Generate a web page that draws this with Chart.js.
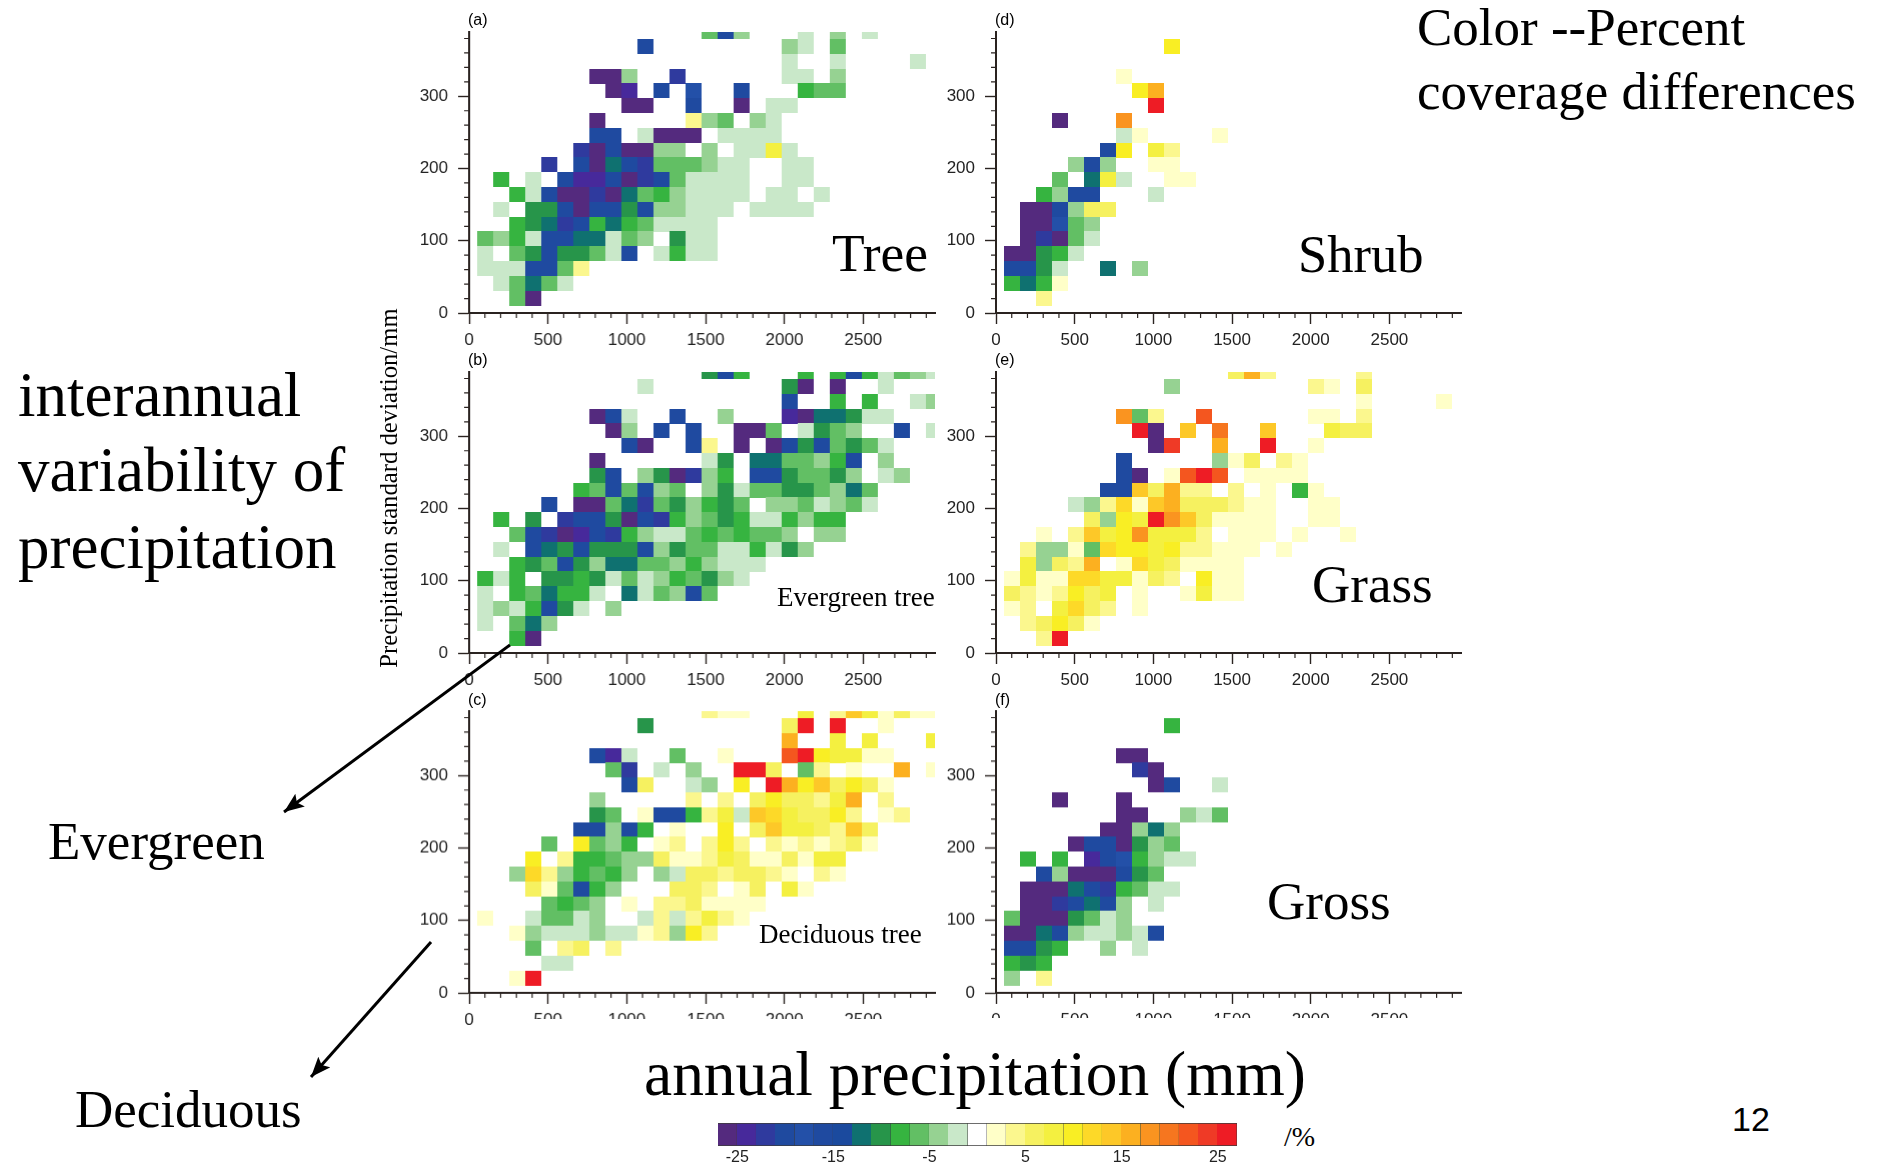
<!DOCTYPE html>
<html>
<head>
<meta charset="utf-8">
<title>Percent coverage differences</title>
<script src="https://cdn.jsdelivr.net/npm/chart.js@4"></script>
<style>
    html, body { margin: 0; padding: 0; background: #fff; }
    #page { position: relative; width: 1877px; height: 1165px; overflow: hidden; }
    #page canvas { position: absolute; }
    .txt { position: absolute; white-space: nowrap; line-height: 1; color: #000; font-family: "Liberation Serif", serif; }
    .mask { position: absolute; background: #fff; }
</style>
</head>
<body>
<div id="page"></div>
<script>
// bin centres along the axes (mm)
const xBins = [102, 203, 305, 406, 508, 610, 711, 813, 914, 1016, 1118, 1219, 1321, 1422, 1524, 1626, 1727, 1829, 1930, 2032, 2134, 2235, 2337, 2438, 2540, 2642, 2743, 2845, 2946];
const yBins = [20.5, 41, 61.5, 82, 102.5, 123, 143.5, 164, 184.5, 205, 225.5, 246, 266.5, 287, 307.5, 328, 348.5, 369, 389.5];
const xTicks = [0, 500, 1000, 1500, 2000, 2500];
const yTicks = [0, 100, 200, 300];

const legendValues = [-26, -24, -22, -20, -18, -16, -14, -12, -10, -8, -6, -4, -2, 0, 2, 4, 6, 8, 10, 12, 14, 16, 18, 20, 22, 24, 26];
const legendTicks = [-25, -15, -5, 5, 15, 25];
const palette = ["#542a7e", "#47299b", "#2f3a9e", "#1f4a9f", "#2350a8", "#1f4aa0", "#1b4a9e", "#0f7170", "#27954a", "#36b440", "#62bf64", "#96d292", "#c9e8c9", "#ffffff", "#ffffc8", "#fbf78e", "#f6f160", "#f4f040", "#f9ee24", "#fdd928", "#fdc828", "#fcb020", "#fa9420", "#f6761f", "#f4561f", "#ef3a26", "#ee1c25"];

// cells: [row, first column, percent, percent, ...] (rows and columns count from 1)
const treeCells = [
    [19, 15, -6, -16, -4], [19, 21, -2], [19, 23, -4], [19, 25, -2],
    [18, 11, -16], [18, 20, -4, -2], [18, 23, -6],
    [17, 20, -2], [17, 23, -2], [17, 28, -2],
    [16, 8, -26, -26, -4], [16, 13, -22], [16, 20, -2, -2], [16, 23, -4],
    [15, 9, -26, -24], [15, 12, -16], [15, 14, -18], [15, 17, -16], [15, 21, -8, -6, -6],
    [14, 10, -26, -26], [14, 14, -16], [14, 17, -26], [14, 19, -2, -2],
    [13, 8, -26], [13, 14, 4, -4, -6], [13, 18, -4, -2],
    [12, 8, -16, -16], [12, 11, -2, -26, -26, -26], [12, 16, -2, -2, -2, -2],
    [11, 7, -22, -26, -16, -26, -26, -4, -4, 0, -4, 0, -2, -2, 8, -2],
    [10, 5, -22], [10, 7, -16, -26, -12, -16, -22, -6, -6, -6, -4, -2, -2], [10, 20, -2, -2],
    [9, 2, -8], [9, 4, -2], [9, 6, -16, -24, -24, -16, -26, -22, -16, -6, -2, -2, -2, -2], [9, 20, -2, -2],
    [8, 3, -8, -2, -16, -26, -26, -22, -26, -12, -6, -8, -4, -2, -2, -2, -2], [8, 19, -2, -2], [8, 22, -2],
    [7, 2, -2], [7, 4, -10, -10, -16, -26, -16, -16, -10, -16, -4, -4, -2, -2, -2], [7, 18, -2, -2, -2, -2],
    [6, 3, -8, -10, -12, -22, -16, -8, -12, -8, -6, -2, -2, -2, -2],
    [5, 1, -6, -4, -8, -2, -16, -16, -12, -12, -2, -6, -4], [5, 13, -10, -2, -2],
    [4, 1, -2], [4, 3, -6, -10, -16, -10, -10, -6, -2, -16], [4, 12, -2, -8, -2, -2],
    [3, 1, -2, -2, -2, -16, -16, -6, 4],
    [2, 2, -2, -6, -12, -6, -2],
    [1, 3, -6, -26]
];
const evergreenCells = [
    [19, 15, -10, -16, -8], [19, 21, -8], [19, 23, -8, -16, -8, -2, -6, -4, -2],
    [18, 11, -2], [18, 20, -10, -26], [18, 23, -26], [18, 26, -2],
    [17, 20, -16], [17, 23, -8], [17, 25, -8], [17, 28, -2, -4],
    [16, 8, -26, -16, -2], [16, 13, -16], [16, 16, -4], [16, 20, -24, -26, -12, -12, -10, -2, -2],
    [15, 9, -26, -4], [15, 12, -16], [15, 14, -16], [15, 17, -26, -26, -6], [15, 21, -2, -10, -6, -4], [15, 27, -16], [15, 29, -2],
    [14, 10, -16, -26], [14, 14, -16, 4], [14, 17, -26], [14, 19, -26, -16, -10, -16, -6, -10, -6, -2],
    [13, 8, -26], [13, 15, -2, -10], [13, 18, -12, -12, -6, -6, -4, -8, -16], [13, 26, -4],
    [12, 8, -10, -16], [12, 11, -4, -10, -26, -22, -4, -8], [12, 18, -16, -16, -10, -6, -6, -10, -4], [12, 26, -2, -4],
    [11, 7, -8, -6, -16, -6, -16, -4, -6, 0, -4, -10, -2, -6, -6, -10, -10, -6, -4, -12, -6],
    [10, 5, -16], [10, 7, -26, -26, -6, -12, -22, -6, -10, -4, -8, -10, -6, 0, -4, -4, -6, -2, -4, -6, -2],
    [9, 2, -8], [9, 4, -10, 0, -22, -16, -16, -10, -26, -16, -22, -8, -4, -6, -10, -8, -2, -2, -8, -4, -8, -8],
    [8, 3, -6, -16, -22, -26, -24, -16, -22, -8, -4, -2, -2, -6, -8, -6, -8, -6, -6, -4, 0, -4, -4],
    [7, 2, -2], [7, 4, -16, -12, -10, -16, -10, -10, -10, -16, -4, -10, -6, -6, -2, -2, -8, -2, -10, -4],
    [6, 3, -8, -10, -6, -16, -10, -4, -12, -12, -6, -6, -4, -8, -4, -2, -2, -2],
    [5, 1, -8, -2, -8, 0, -10, -10, -8, -10, -2, -6, -2, -4, -8, -6, -10, -4, -2],
    [4, 1, -2, 0, -8, -6, -12, -8, -8, -2, 0, -12, -2, -6, -4, -16, -6],
    [3, 1, -2, -4, -2, -8, -16, -10, -2], [3, 9, -4],
    [2, 1, -2], [2, 3, -6, -12, -4],
    [1, 3, -8, -26]
];
const deciduousCells = [
    [19, 15, 4, 2, 2], [19, 21, 8], [19, 23, 4, 14, 8, 2, 6, 2, 2],
    [18, 11, -10], [18, 20, 6, 26], [18, 23, 26], [18, 26, 2],
    [17, 20, 16], [17, 23, 8], [17, 25, 8], [17, 29, 8],
    [16, 8, -16, -24, -2], [16, 13, -6], [16, 16, 2], [16, 20, 22, 26, 10, 8, 8, 2, 2],
    [15, 9, -6, -22], [15, 12, -2], [15, 14, -4], [15, 17, 26, 26, 6], [15, 21, -6, 4], [15, 24, 2], [15, 27, 16], [15, 29, 2],
    [14, 10, -16, 6], [14, 14, -2, -4], [14, 17, 10], [14, 19, 26, 16, 10, 14, 6, 10, 6, 2],
    [13, 8, -4], [13, 14, 4], [13, 16, 4], [13, 18, 6, 10, 6, 6, 4, 8, 16], [13, 26, 4],
    [12, 8, -10, -6], [12, 11, 2, -16, -16, -8, 4, 8, -2, 14, 12, 8, 6, 6, 10, 4], [12, 26, 2, 4],
    [11, 7, -16, -16, -4, -16, -8], [11, 13, 2], [11, 16, 10], [11, 18, 6, 14, 8, 8, 6, 4, 14, 6],
    [10, 5, -6], [10, 7, 10, -6, -4, -8], [10, 12, 2, 4], [10, 15, 4, 10, 4], [10, 19, 4, 2, 4, 2, 4, 6, 2],
    [9, 4, 10], [9, 6, 4, -8, -8, -6, -4, -4, 6, 2, 2, 4, 8, 6, 2, 2, 6, 2, 8, 8],
    [8, 3, -4, 12, 4, -4, -8, -6, -8, -4], [8, 12, -4, -2, 6, 6, 4, 6, 6, 4, 2], [8, 22, 4, 2],
    [7, 4, 6, 2, -6, -16, -8, -4], [7, 13, 6, 6, 4], [7, 17, 2, 6], [7, 20, 8, 2],
    [6, 5, -6, -8, -6, -4], [6, 10, 2], [6, 12, 4, 4, 6, 2, 2, 2, 2],
    [5, 1, 2], [5, 4, -2, -6, -6, -2, -4], [5, 11, -2, 4, -2, 4, 8, 4, 2],
    [4, 3, 2, -4, -2, -2, -2, -4, -2, -2, 2, 4, -4, 10, 4],
    [3, 4, -6], [3, 6, 4, 6], [3, 9, 4],
    [2, 5, -2, -2],
    [1, 3, 2, 26]
];
const shrubCells = [
    [18, 11, 10],
    [16, 8, 2],
    [15, 9, 10, 16],
    [14, 10, 26],
    [13, 4, -26], [13, 8, 18],
    [12, 8, -2, 2], [12, 14, 2],
    [11, 7, -16, 10], [11, 10, 8, 4],
    [10, 5, -4, -16, -4], [10, 10, 2, 2],
    [9, 4, -6], [9, 6, -12, 8, -2], [9, 11, 2, 2],
    [8, 3, -8, -4, -16, -16], [8, 10, -2],
    [7, 2, -26, -26, -16, -4, 6, 6],
    [6, 2, -26, -26, -18, -6, -4],
    [5, 2, -26, -22, -26, -6, -2],
    [4, 1, -26, -26, -10, -8, -2],
    [3, 1, -16, -16, -10, -2], [3, 7, -12], [3, 9, -4],
    [2, 1, -8, -12, -8, 2],
    [1, 3, 4]
];
const grassCells = [
    [19, 15, 6, 16, 4], [19, 23, 4],
    [18, 11, -4], [18, 20, 4, 2], [18, 23, 6],
    [17, 23, 2], [17, 28, 2],
    [16, 8, 18, -6, 4], [16, 13, 22], [16, 20, 2, 2], [16, 23, 4],
    [15, 9, 26, -26], [15, 12, 14], [15, 14, 20], [15, 17, 14], [15, 21, 8, 6, 6],
    [14, 10, -26, 24], [14, 14, 16], [14, 17, 26], [14, 20, 2],
    [13, 8, -16], [13, 14, -4, 2, 6], [13, 18, 4, 2],
    [12, 8, -16, -26], [12, 11, 2, 22, 26, 22], [12, 16, 2, 2, 2, 2],
    [11, 7, -16, -16, 14, 6, 16, 4, 4], [11, 15, 4], [11, 17, 2], [11, 19, -8, 2],
    [10, 5, -2, -4, 4, 12, 2, 14, 16, 6, 6, 6, 4, 2, 2], [10, 20, 2, 2],
    [9, 6, 6, -4, 10, 8, 26, 18, 14, 6, 2, 2, 2, 2], [9, 20, 2, 2],
    [8, 3, 2], [8, 5, 4, 14, 8, 10, 18, 8, 8, 8, 4], [8, 15, 2, 2, 2], [8, 19, 2], [8, 22, 2],
    [7, 2, 4, -4, -4, 2, -6, 12, 10, 10, 8, 10, 4, 4, 2, 2, 2], [7, 18, 2],
    [6, 2, 8, -4, 6, 4, 16], [6, 8, 2, 12, 8, 6, 2, 2, 2, 2],
    [5, 1, 2, 8, 2, 2, 12, 12, 8, 8, 2, 6, 4], [5, 13, 10, 2, 2],
    [4, 1, 6, 4, 2, 4, 10, 6, 8], [4, 9, 2], [4, 12, 2, 8, 2, 2],
    [3, 1, 2, 4], [3, 4, 8, 12, 6, 4], [3, 9, 2],
    [2, 2, 4, 6, 10, 6, 2],
    [1, 3, 4, 26]
];
const grossCells = [
    [18, 11, -8],
    [16, 8, -26, -26],
    [15, 9, -22, -26],
    [14, 10, -26, -16], [14, 14, -2],
    [13, 4, -26], [13, 8, -26],
    [12, 8, -26, -26], [12, 12, -4, -2, -6],
    [11, 7, -26, -26, -4, -12, -4],
    [10, 5, -26, -16, -16, -26, -10, -4, -6],
    [9, 2, -8], [9, 4, -8], [9, 6, -24, -16, -18, -8, -4, -2, -2],
    [8, 3, -16, -4, -26, -26, -26, -16, -10, -6],
    [7, 2, -26, -26, -26, -12, -16, -22, -8, -6, -2, -2],
    [6, 2, -26, -26, -22, -16, -12, -16, -4], [6, 10, -2],
    [5, 1, -6, -26, -26, -26, -10, -6, -2, -4],
    [4, 1, -26, -26, -12, -16, -4, -2, -2, -4, -2, -16],
    [3, 1, -16, -16, -10, -8], [3, 7, -4], [3, 9, -2],
    [2, 1, -8, -10, -8],
    [1, 1, -4], [1, 3, 4]
];

const page = document.getElementById("page");

const makeSwatch = (color, w, h, edge) => {
    let c = document.createElement("canvas");
    c.width = w;
    c.height = h;
    let g = c.getContext("2d");
    g.fillStyle = color;
    g.fillRect(0, 0, w, h);
    if (edge) {
        g.fillStyle = "rgba(60,60,60,0.75)";
        g.fillRect(w - 1, 0, 1, h);
        g.fillRect(0, 0, w, 1);
        g.fillRect(0, h - 1, w, 1);
    }
    return c;
};
const cellSwatches = palette.map((c) => makeSwatch(c, 16, 15, false));
const legendSwatches = palette.map((c) => makeSwatch(c, 20, 23, true));
const levelOf = (v) => Math.round(v / 2) + 13;

const cellsToPoints = (cells) => {
    let points = [];
    cells.forEach((seg) => {
        for (let i = 2; i < seg.length; i++) {
            if (seg[i] !== 0) {
                points.push({ x: xBins[seg[1] + i - 3], y: yBins[seg[0] - 1], v: seg[i] });
            }
        }
    });
    return points;
};

// chart.js has no minor ticks, so they go on through the scales here
const minorTicks = {
    id: "minorTicks",
    afterDraw(chart) {
        const x = chart.scales.x, y = chart.scales.y, c = chart.ctx;
        c.save();
        c.strokeStyle = "#2a2320";
        c.lineWidth = 1.2;
        c.beginPath();
        for (let v = 100; v < 2955; v += 100) {
            if (v % 500 === 0) continue;
            c.moveTo(x.getPixelForValue(v), chart.chartArea.bottom);
            c.lineTo(x.getPixelForValue(v), chart.chartArea.bottom + 5);
        }
        for (let v = 20; v < 389; v += 20) {
            if (v % 100 === 0) continue;
            c.moveTo(chart.chartArea.left, y.getPixelForValue(v));
            c.lineTo(chart.chartArea.left - 5, y.getPixelForValue(v));
        }
        c.stroke();
        c.restore();
    }
};

const LEFT = 70, BOTTOM = 50, TOPPAD = 30, RIGHTPAD = 30;
const addPanel = (cells, left, right, top, bottom) => {
    let cv = document.createElement("canvas");
    let w = right - left + LEFT + RIGHTPAD, h = bottom - top + TOPPAD + BOTTOM;
    cv.style.left = (left - LEFT) + "px";
    cv.style.top = (top - TOPPAD) + "px";
    cv.style.width = w + "px";
    cv.style.height = h + "px";
    page.appendChild(cv);
    const axis = {
        grid: { drawOnChartArea: false, color: "#2a2320", tickColor: "#2a2320", tickLength: 11, tickWidth: 1.4 },
        border: { display: true, color: "#2a2320", width: 2 },
    };
    new Chart(cv, {
        type: "scatter",
        data: {
            datasets: [{
                data: cellsToPoints(cells),
                pointStyle: (ctx) => cellSwatches[levelOf(ctx.raw.v)],
                pointRadius: 8,
                pointBorderWidth: 0,
            }],
        },
        options: {
            responsive: false,
            animation: false,
            events: [],
            layout: { padding: { top: TOPPAD, right: RIGHTPAD } },
            plugins: { legend: { display: false }, tooltip: { enabled: false } },
            scales: {
                x: {
                    ...axis,
                    type: "linear",
                    min: 0,
                    max: 2955,
                    afterBuildTicks: (s) => { s.ticks = xTicks.map((v) => ({ value: v })); },
                    ticks: { autoSkip: false, maxRotation: 0, padding: 6, color: "#222", font: { family: "Liberation Sans", size: 17 }, callback: (v) => String(v) },
                    afterFit: (s) => { s.height = BOTTOM; },
                },
                y: {
                    ...axis,
                    min: 0,
                    max: 389,
                    afterBuildTicks: (s) => { s.ticks = yTicks.map((v) => ({ value: v })); },
                    ticks: { autoSkip: false, padding: 10, color: "#222", font: { family: "Liberation Sans", size: 17 }, callback: (v) => String(v) },
                    afterFit: (s) => { s.width = LEFT; },
                },
            },
        },
        plugins: [minorTicks],
    });
};

addPanel(treeCells, 469.3, 934.7, 31.7, 313.3);
addPanel(evergreenCells, 469.3, 934.7, 371.7, 653.3);
addPanel(deciduousCells, 469.3, 934.7, 711, 992.7);
addPanel(shrubCells, 995.7, 1461, 31.7, 313.3);
addPanel(grassCells, 995.7, 1461, 371.7, 653.3);
addPanel(grossCells, 995.7, 1461, 711, 992.7);

// colour key
const legendCanvas = document.createElement("canvas");
legendCanvas.style.left = "708px";
legendCanvas.style.top = "1103px";
legendCanvas.style.width = "539px";
legendCanvas.style.height = "62px";
page.appendChild(legendCanvas);
new Chart(legendCanvas, {
    type: "scatter",
    data: {
        datasets: [{
            data: legendValues.map((v) => ({ x: v, y: 0, v: v })),
            pointStyle: (ctx) => legendSwatches[levelOf(ctx.raw.v)],
            pointRadius: 8,
            pointBorderWidth: 0,
        }],
    },
    options: {
        responsive: false,
        animation: false,
        events: [],
        layout: { padding: { left: 10, right: 10, top: 20 } },
        plugins: { legend: { display: false }, tooltip: { enabled: false } },
        scales: {
            x: {
                type: "linear",
                min: -27,
                max: 27,
                grid: { display: false, drawTicks: false },
                border: { display: false },
                afterBuildTicks: (s) => { s.ticks = legendTicks.map((v) => ({ value: v })); },
                ticks: { maxRotation: 0, autoSkip: false, padding: 2, color: "#222", font: { family: "Liberation Sans", size: 16 } },
                afterFit: (s) => { s.height = 19; },
            },
            y: { display: false, min: -1, max: 1 },
        },
    },
});

// hides the lower half of the tick labels, as in the slide
[[530, 1019, 410, 18], [988, 1018, 440, 18]].forEach((m) => {
    let d = document.createElement("div");
    d.className = "mask";
    d.style.cssText = `left:${m[0]}px;top:${m[1]}px;width:${m[2]}px;height:${m[3]}px`;
    page.appendChild(d);
});

const addText = (str, left, baseline, size, sans) => {
    let d = document.createElement("div");
    d.className = "txt";
    d.textContent = str;
    d.style.left = left + "px";
    d.style.top = (baseline - size * (sans ? 0.8465 : 0.8375)) + "px";
    d.style.fontSize = size + "px";
    if (sans) d.style.fontFamily = '"Liberation Sans", sans-serif';
    page.appendChild(d);
    return d;
};

addText("(a)", 468, 26, 16, true);
addText("(b)", 468, 366, 16, true);
addText("(c)", 468, 706, 16, true);
addText("(d)", 995, 26, 16, true);
addText("(e)", 995, 366, 16, true);
addText("(f)", 995, 706, 16, true);

addText("Tree", 832, 271.7, 53.5);
addText("Shrub", 1298, 271.7, 52.5);
addText("Grass", 1312, 602.7, 53);
addText("Gross", 1267, 919, 53);
addText("Evergreen tree", 777, 606.7, 27);
addText("Deciduous tree", 759, 944, 27);

addText("Color --Percent", 1417, 45.7, 53);
addText("coverage differences", 1417, 109.3, 53);
addText("interannual", 18, 417, 63);
addText("variability of", 18, 492, 63);
addText("precipitation", 18, 569, 63);
addText("Evergreen", 48, 859, 53);
addText("Deciduous", 75, 1127, 53);
addText("annual precipitation (mm)", 644, 1096, 63.4);
addText("/%", 1284, 1146, 28);
addText("12", 1732, 1131, 34, true);

const yTitle = addText("Precipitation standard deviation/mm", 389, 488, 24.7);
yTitle.style.transform = "translate(-50%, -50%) rotate(-90deg)";
yTitle.style.top = "488px";

// arrows from the panels to the labels
const svgNS = "http://www.w3.org/2000/svg";
const svg = document.createElementNS(svgNS, "svg");
svg.setAttribute("width", "1877");
svg.setAttribute("height", "1165");
svg.style.cssText = "position:absolute;left:0;top:0";
svg.innerHTML = `<defs><marker id="head" markerUnits="userSpaceOnUse" markerWidth="22" markerHeight="18" refX="20" refY="8" orient="auto"><path d="M0,0 L20,8 L0,16 L4,8 Z" fill="#000"/></marker></defs>
<line x1="510" y1="645" x2="284" y2="812" stroke="#000" stroke-width="3" marker-end="url(#head)"/>
<line x1="431" y1="942" x2="311" y2="1077" stroke="#000" stroke-width="3" marker-end="url(#head)"/>`;
page.appendChild(svg);
</script>
</body>
</html>
